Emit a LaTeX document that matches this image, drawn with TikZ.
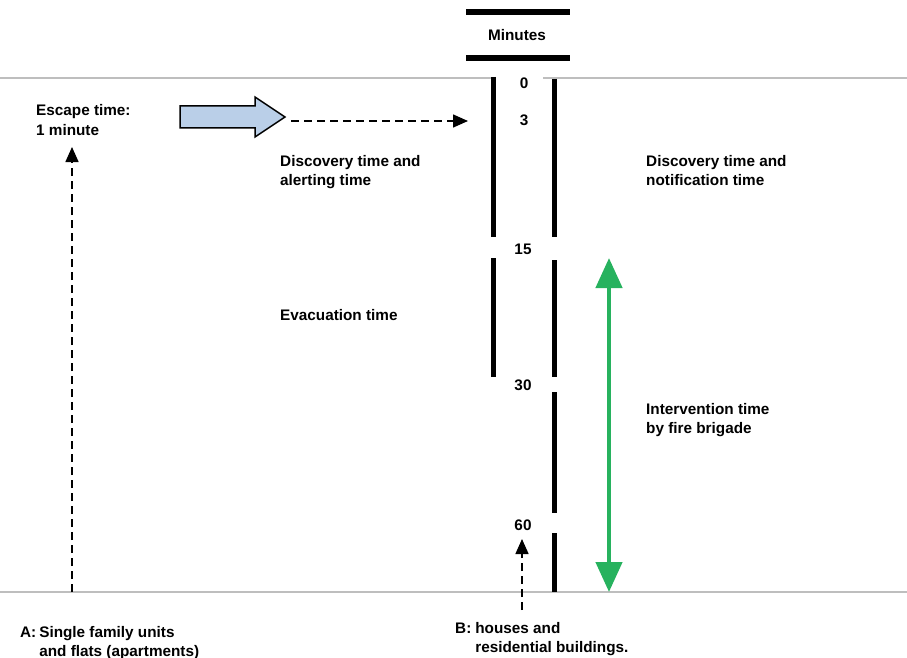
\documentclass[tikz,border=0pt]{standalone}
\usepackage{fontspec}
\setmainfont{Liberation Sans}
\usetikzlibrary{arrows.meta}
\definecolor{rulegray}{RGB}{190,190,190}
\definecolor{arrowblue}{RGB}{186,207,232}
\definecolor{brigadegreen}{RGB}{39,178,94}
\tikzset{
  lbl/.style={anchor=base west, inner sep=0pt, font=\bfseries\fontsize{15.3}{19.5}\selectfont},
  num/.style={anchor=base, inner sep=0pt, font=\bfseries\fontsize{15.3}{19.5}\selectfont},
  bar/.style={line width=5pt},
  hbar/.style={line width=6pt},
  grayrule/.style={draw=rulegray, line width=1.5pt},
  dasharrow/.style={line width=1.5pt, dash pattern=on 8pt off 5pt, -{Triangle[width=13pt,length=15pt]}},
  greenarrow/.style={draw=brigadegreen, line width=4.5pt, {Triangle[width=26pt,length=30pt]}-{Triangle[width=26pt,length=30pt]}},
}
\begin{document}
\begin{tikzpicture}[x=1pt,y=-1pt]
\useasboundingbox[fill=white] (0,0) rectangle (907,658);
% gray rules
\draw[grayrule] (0,78) -- (494,78);
\draw[grayrule] (543,78) -- (907,78);
\draw[grayrule] (0,592) -- (907,592);
% Minutes header
\draw[hbar] (466,12) -- (570,12);
\draw[hbar] (466,58) -- (570,58);
\node[num] (minutes) at (517,41) {Minutes};
% vertical bars
\draw[bar] (493,77) -- (493,237);
\draw[bar] (493,258) -- (493,377);
\draw[bar] (554,79) -- (554,237);
\draw[bar] (554,260) -- (554,377);
\draw[bar] (554,392) -- (554,513);
\draw[bar] (554,533) -- (554,592);
% numbers
\node[num] (n0) at (524,89) {0};
\node[num] (n3) at (524,126) {3};
\node[num] (n15) at (523,254) {15};
\node[num] (n30) at (523,390) {30};
\node[num] (n60) at (523,530) {60};
% labels
\node[lbl] (escape) at (36,116) {\begin{tabular}[t]{@{}l@{}}Escape time:\\1 minute\end{tabular}};
\node[lbl] (alert) at (280,166) {\begin{tabular}[t]{@{}l@{}}Discovery time and\\alerting time\end{tabular}};
\node[lbl] (notif) at (646,166) {\begin{tabular}[t]{@{}l@{}}Discovery time and\\notification time\end{tabular}};
\node[lbl] (evac) at (280,320) {Evacuation time};
\node[lbl] (interv) at (646,414) {\begin{tabular}[t]{@{}l@{}}Intervention time\\by fire brigade\end{tabular}};
\node[lbl] (labA) at (20,637) {\begin{tabular}[t]{@{}l@{\hspace{3pt}}l@{}}A:&Single family units\\&and flats (apartments)\end{tabular}};
\node[lbl] (labB) at (455,633) {\begin{tabular}[t]{@{}l@{\hspace{4pt}}l@{}}B:&houses and\\&residential buildings.\end{tabular}};
% blue block arrow
\draw[fill=arrowblue, line width=1.5pt, line join=miter]
  (180,106) -- (255,106) -- (255,97) -- (285,117) -- (255,137) -- (255,128) -- (180,128) -- cycle;
% dashed arrows
\coordinate (h0) at (291,121);
\coordinate (h1) at (468,121);
\draw[dasharrow] (h0) -- (h1);
\coordinate (a0) at (72,592);
\coordinate (a1) at (72,147);
\draw[dasharrow] (a0) -- (a1);
\coordinate (b0) at (522,610);
\coordinate (b1) at (522,539);
\draw[dasharrow] (b0) -- (b1);
% green arrow
\coordinate (g0) at (609,258);
\coordinate (g1) at (609,592);
\draw[greenarrow] (g0) -- (g1);
\end{tikzpicture}
\end{document}
